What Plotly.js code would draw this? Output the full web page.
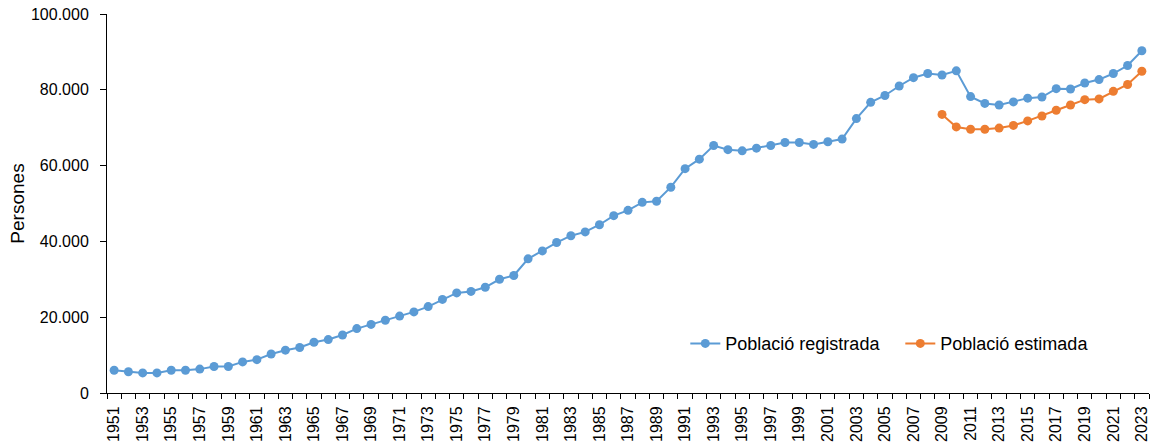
<!DOCTYPE html>
<html>
<head>
<meta charset="utf-8">
<script src="https://cdn.plot.ly/plotly-3.0.1.min.js"></script>
<style>html,body{margin:0;padding:0;background:#fff;}#chart{width:1155px;height:443px;}</style>
</head>
<body>
<div id="chart"></div>
<script>
const years = [];
for (let y = 1951; y <= 2023; y++) years.push(y);

const registrada = [
  6000, 5600, 5300, 5300, 6000, 6000, 6300, 7000, 7000, 8200,
  8800, 10300, 11300, 12000, 13400, 14100, 15300, 17000, 18100, 19200,
  20300, 21400, 22800, 24700, 26400, 26800, 27900, 30000, 31000, 35400,
  37500, 39700, 41500, 42500, 44400, 46800, 48200, 50300, 50600, 54300,
  59200, 61700, 65300, 64200, 63900, 64600, 65300, 66100, 66100, 65600,
  66300, 67000, 72400, 76700, 78500, 81000, 83200, 84300, 83900, 85000,
  78200, 76400, 76000, 76800, 77800, 78100, 80300, 80200, 81800, 82700,
  84300, 86400, 90300
];

const estimadaYears = [2009, 2010, 2011, 2012, 2013, 2014, 2015, 2016, 2017, 2018, 2019, 2020, 2021, 2022, 2023];
const estimada = [73500, 70200, 69600, 69600, 69900, 70600, 71800, 73100, 74600, 76000, 77400, 77600, 79600, 81400, 84900];

const labelYears = years.filter(y => y % 2 === 1);
const yTicks = [0, 20000, 40000, 60000, 80000, 100000];

const font = "Liberation Sans, Arial, sans-serif";

const traces = [
  {
    x: years, y: registrada, name: "Població registrada", type: "scatter", mode: "lines+markers",
    line: {color: "#5B9BD5", width: 2}, marker: {color: "#5B9BD5", size: 9}
  },
  {
    x: estimadaYears, y: estimada, name: "Població estimada", type: "scatter", mode: "lines+markers",
    line: {color: "#ED7D31", width: 2}, marker: {color: "#ED7D31", size: 9}
  }
];

const layout = {
  width: 1155, height: 443,
  margin: {l: 107, r: 6, t: 14, b: 50},
  paper_bgcolor: "#fff", plot_bgcolor: "#fff",
  separators: ",.",
  font: {family: font, color: "#000"},
  showlegend: true,
  legend: {
    orientation: "h", x: 0.555, y: 0.13, xanchor: "left", yanchor: "middle",
    font: {family: font, size: 18, color: "#000"},
    entrywidth: 170, entrywidthmode: "pixels", bgcolor: "rgba(0,0,0,0)"
  },
  xaxis: {
    type: "linear", range: [1950.5, 2023.5], automargin: false,
    tickmode: "array", tickvals: labelYears, ticktext: labelYears.map(String),
    ticks: "", tickangle: -90, ticklabelstandoff: 6,
    tickfont: {family: font, size: 16, color: "#000"},
    showgrid: false, zeroline: false, showline: true, linecolor: "#000", linewidth: 1,
    minor: {ticks: "outside", ticklen: 5, tick0: 1950.5, dtick: 1, tickcolor: "#000", showgrid: false},
    fixedrange: true
  },
  yaxis: {
    range: [0, 100000], tickmode: "array", tickvals: yTicks, tickformat: ",d", automargin: false,
    ticks: "outside", ticklen: 6, tickcolor: "#000", ticklabelstandoff: 8,
    tickfont: {family: font, size: 16, color: "#000"},
    showgrid: false, zeroline: false, showline: true, linecolor: "#000", linewidth: 1,
    title: {text: "Persones", font: {family: font, size: 19, color: "#000"}, standoff: 1},
    fixedrange: true
  }
};

Plotly.newPlot("chart", traces, layout, {displayModeBar: false, staticPlot: true});
</script>
</body>
</html>
